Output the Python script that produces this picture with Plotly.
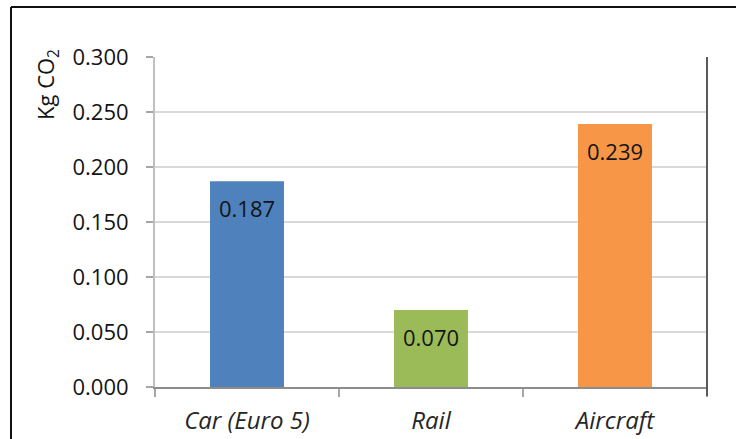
import plotly.graph_objects as go

categories = ["Car (Euro 5)", "Rail", "Aircraft"]
values = [0.187, 0.070, 0.239]
bar_colors = ["#4f81bd", "#9bbb59", "#f79646"]
y_ticks = [0.0, 0.05, 0.10, 0.15, 0.20, 0.25, 0.30]
y_tick_labels = ["0.000", "0.050", "0.100", "0.150", "0.200", "0.250", "0.300"]
y_title = "Kg CO<sub>2</sub>"

W, H = 736, 439
L, R, T, B = 155, 29, 57, 52
pw, ph = W - L - R, H - T - B

FONT = "Open Sans"

fig = go.Figure()
fig.add_trace(go.Bar(
    x=categories, y=values,
    marker=dict(color=bar_colors, line=dict(width=0)),
    hoverinfo="skip",
))

for c, v in zip(categories, values):
    fig.add_annotation(
        x=c, y=v, xref="x", yref="y",
        text=f"{v:.3f}", showarrow=False,
        yanchor="top", yshift=-10,
        font=dict(family=FONT, size=22, color="#141414"),
    )

fig.add_annotation(
    x=(47 - L) / pw, y=(H - B - 85) / ph, xref="paper", yref="paper",
    text=y_title, textangle=-90, showarrow=False,
    xanchor="center", yanchor="middle",
    font=dict(family=FONT, size=22, color="#141414"),
)

# outer frame (left + top), plot right border
fig.add_shape(type="line", xref="paper", yref="paper",
              x0=(11 - L) / pw, x1=(W - L) / pw + 0.01,
              y0=(H - B - 7) / ph, y1=(H - B - 7) / ph,
              line=dict(color="#111111", width=2))
fig.add_shape(type="line", xref="paper", yref="paper",
              x0=(11 - L) / pw, x1=(11 - L) / pw,
              y0=(H - B - 7) / ph, y1=-0.2,
              line=dict(color="#111111", width=2))
fig.add_shape(type="line", xref="paper", yref="paper",
              x0=1, x1=1, y0=-9 / ph, y1=1,
              line=dict(color="#5a5a5a", width=2))

fig.update_layout(
    width=W, height=H,
    margin=dict(l=L, r=R, t=T, b=B, autoexpand=False),
    paper_bgcolor="white", plot_bgcolor="white",
    showlegend=False,
    bargap=0.598,
    font=dict(family=FONT, size=22, color="#141414"),
    xaxis=dict(
        type="category", tickson="boundaries", automargin=False,
        ticks="outside", ticklen=8, tickcolor="#a6a6a6", tickwidth=1.5,
        showline=True, linecolor="#8c8c8c", linewidth=2,
        showgrid=False,
        tickfont=dict(family=FONT, size=24, color="#262626", style="italic"),
        ticklabelstandoff=11,
    ),
    yaxis=dict(
        range=[0, 0.3], automargin=False,
        tickmode="array", tickvals=y_ticks, ticktext=y_tick_labels,
        ticks="outside", ticklen=7, tickcolor="#a6a6a6", tickwidth=1.5,
        showline=True, linecolor="#c0c0c0", linewidth=2,
        showgrid=True, gridcolor="#d9d9d9", gridwidth=1.5,
        zeroline=False,
        tickfont=dict(family=FONT, size=22, color="#141414"),
        ticklabelstandoff=13,
    ),
)

fig.write_html("out.html")
